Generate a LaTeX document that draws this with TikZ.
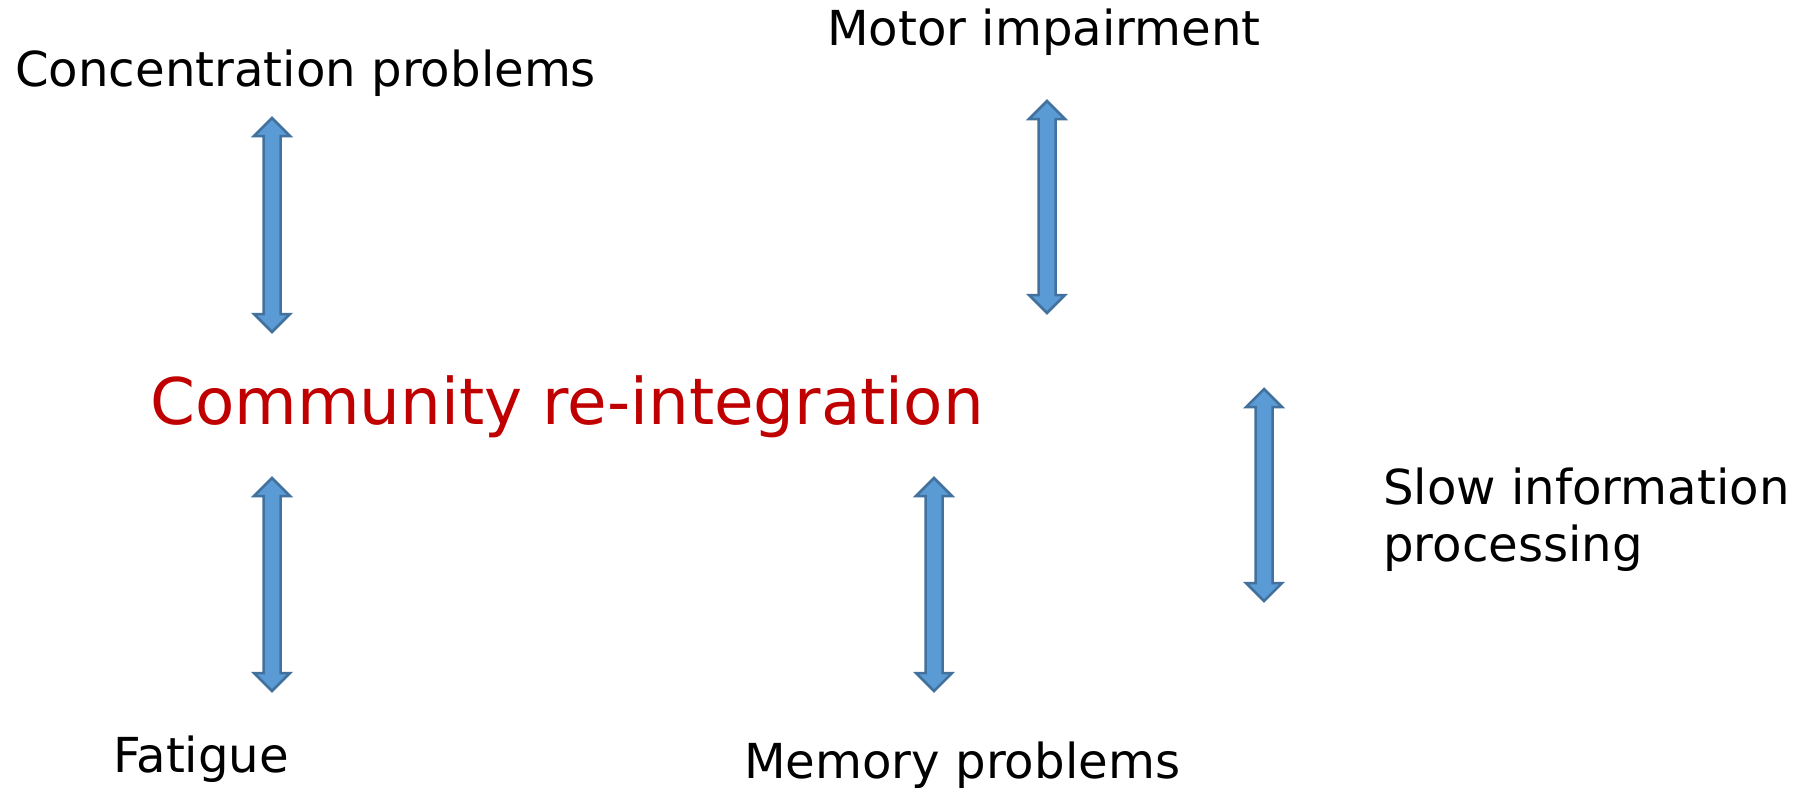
\documentclass[tikz,border=0pt]{standalone}
\usepackage{fontspec}
\setmainfont{DejaVu Sans}
\usetikzlibrary{calc}
\definecolor{arrowfill}{HTML}{5B9BD5}
\definecolor{arrowline}{HTML}{41719C}
\definecolor{titlered}{HTML}{C00000}
\tikzset{
  label/.style={inner sep=0pt, anchor=base west, text=black,
    font=\fontsize{48.2bp}{57bp}\selectfont, align=left},
  title/.style={inner sep=0pt, anchor=base west, text=titlered,
    font=\fontsize{64.3bp}{77bp}\selectfont},
  dblarrow/.style={fill=arrowfill, draw=arrowline, line width=2.5bp, line join=miter}
}
% vertical double-headed block arrow between two named points (top, bottom)
\newcommand\twoheaded[2]{%
  \draw[dblarrow] let \p1=(#1), \p2=(#2) in
    (\x1,\y1) -- (\x1+18bp,\y1-18bp) -- (\x1+8.5bp,\y1-18bp)
    -- (\x1+8.5bp,\y2+18bp) -- (\x1+18bp,\y2+18bp) -- (\x2,\y2)
    -- (\x1-18bp,\y2+18bp) -- (\x1-8.5bp,\y2+18bp)
    -- (\x1-8.5bp,\y1-18bp) -- (\x1-18bp,\y1-18bp) -- cycle;}
\begin{document}
\begin{tikzpicture}[x=1bp, y=-1bp]
\useasboundingbox (0,0) rectangle (1799,789);

% labels (the two-line label is anchored on its last baseline)
\node[label] (conc) at (15,87) {Concentration problems};
\node[label] (motor) at (827,46) {Motor impairment};
\node[title] (comm) at (150,424.5) {Community re-integration};
\node[label] (slow) at (1383,561) {Slow information\\processing};
\node[label] (fat) at (113,772) {Fatigue};
\node[label] (mem) at (744,778) {Memory problems};

% arrow end points
\coordinate (c1t) at (272,118); \coordinate (c1b) at (272,332);
\coordinate (m1t) at (1047,101); \coordinate (m1b) at (1047,313);
\coordinate (f1t) at (272,478); \coordinate (f1b) at (272,691);
\coordinate (r1t) at (934,478); \coordinate (r1b) at (934,691);
\coordinate (s1t) at (1264,389); \coordinate (s1b) at (1264,601);

\twoheaded{c1t}{c1b}
\twoheaded{m1t}{m1b}
\twoheaded{f1t}{f1b}
\twoheaded{r1t}{r1b}
\twoheaded{s1t}{s1b}
\end{tikzpicture}
\end{document}
